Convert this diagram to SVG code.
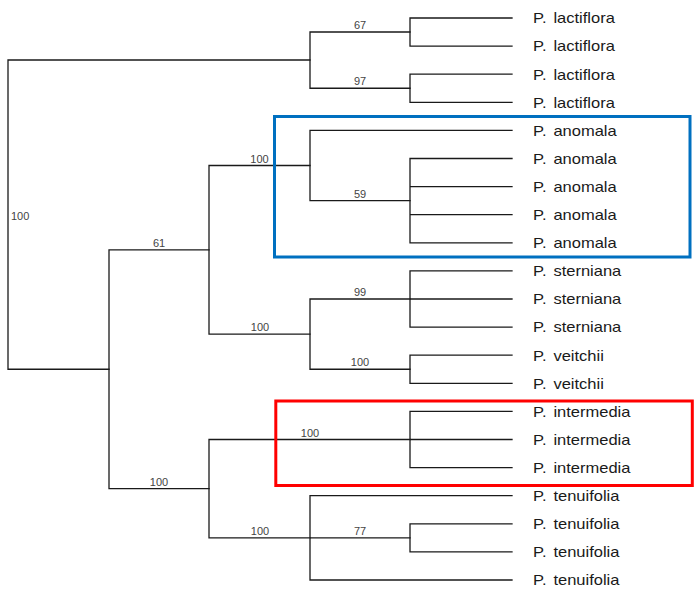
<svg xmlns="http://www.w3.org/2000/svg" width="700" height="603" viewBox="0 0 700 603">
<style>
.br{fill:none;stroke:#1a1a1a;stroke-width:1.3;stroke-linecap:square}
.leaf{font-family:"Liberation Sans",Arial,sans-serif;font-size:14px;fill:#1a1a1a}
.bs{font-family:"Liberation Sans",Arial,sans-serif;font-size:11px;fill:#444;text-anchor:middle}
.bsl{font-family:"Liberation Sans",Arial,sans-serif;font-size:11px;fill:#444}
.blue{fill:none;stroke:#0070C0;stroke-width:3}
.red{fill:none;stroke:#FF0000;stroke-width:3}
</style>
<rect width="700" height="603" fill="#fff"/>
<g id="connectors">
<path class="br" d="M8,60V369.25M8,60H310M8,369.25H109"/>
<path class="br" d="M310,32V88.25M310,32H410M310,88.25H410"/>
<path class="br" d="M410,18V46.1M410,18H512M410,46.1H512"/>
<path class="br" d="M410,74.2V102.3M410,74.2H512M410,102.3H512"/>
<path class="br" d="M109,249.8V488.7M109,249.8H209M109,488.7H209"/>
<path class="br" d="M209,165.5V334.1M209,165.5H310M209,334.1H310"/>
<path class="br" d="M310,130.4V200.65M310,130.4H512M310,200.65H410"/>
<path class="br" d="M410,158.5V242.8M410,158.5H512M410,186.6H512M410,214.7H512M410,242.8H512"/>
<path class="br" d="M310,299V369.25M310,299H410M310,369.25H410"/>
<path class="br" d="M410,270.9V327.1M410,270.9H512M410,299H512M410,327.1H512"/>
<path class="br" d="M410,355.2V383.3M410,355.2H512M410,383.3H512"/>
<path class="br" d="M209,439.5V537.85M209,439.5H410M209,537.85H310"/>
<path class="br" d="M410,411.4V467.6M410,411.4H512M410,439.5H512M410,467.6H512"/>
<path class="br" d="M310,495.7V580M310,495.7H512M310,537.85H410M310,580H512"/>
<path class="br" d="M410,523.8V551.9M410,523.8H512M410,551.9H512"/>
</g>
<g id="highlight-anomala"><rect class="blue" x="274.5" y="116.5" width="415.5" height="140.5"/></g>
<g id="highlight-intermedia"><rect class="red" x="275.8" y="401" width="416.5" height="84.5"/></g>
<g id="internal-nodes">
<g id="n-root"><text class="bsl" x="11" y="220">100</text></g>
<g id="n-lact67"><text class="bs" x="360" y="28.5">67</text></g>
<g id="n-lact97"><text class="bs" x="360" y="85">97</text></g>
<g id="n-61"><text class="bs" x="159" y="246.8">61</text></g>
<g id="n-anom100"><text class="bs" x="259.5" y="162.5">100</text></g>
<g id="n-anom59"><text class="bs" x="360" y="197.5">59</text></g>
<g id="n-stv100"><text class="bs" x="260" y="331">100</text></g>
<g id="n-stern99"><text class="bs" x="360" y="295.5">99</text></g>
<g id="n-veit100"><text class="bs" x="360" y="366">100</text></g>
<g id="n-low100"><text class="bs" x="159" y="486">100</text></g>
<g id="n-inter100"><text class="bs" x="310" y="436.7">100</text></g>
<g id="n-tenui100"><text class="bs" x="260" y="535">100</text></g>
<g id="n-tenui77"><text class="bs" x="360" y="534.5">77</text></g>
</g>
<g id="leaves">
<g id="leaf1"><text class="leaf" transform="translate(533,23.3) scale(1.18,1)">P.<tspan dx="2"> lactiflora</tspan></text></g>
<g id="leaf2"><text class="leaf" transform="translate(533,51.4) scale(1.18,1)">P.<tspan dx="2"> lactiflora</tspan></text></g>
<g id="leaf3"><text class="leaf" transform="translate(533,79.5) scale(1.18,1)">P.<tspan dx="2"> lactiflora</tspan></text></g>
<g id="leaf4"><text class="leaf" transform="translate(533,107.6) scale(1.18,1)">P.<tspan dx="2"> lactiflora</tspan></text></g>
<g id="leaf5"><text class="leaf" transform="translate(533,135.7) scale(1.18,1)">P.<tspan dx="2"> anomala</tspan></text></g>
<g id="leaf6"><text class="leaf" transform="translate(533,163.8) scale(1.18,1)">P.<tspan dx="2"> anomala</tspan></text></g>
<g id="leaf7"><text class="leaf" transform="translate(533,191.9) scale(1.18,1)">P.<tspan dx="2"> anomala</tspan></text></g>
<g id="leaf8"><text class="leaf" transform="translate(533,220) scale(1.18,1)">P.<tspan dx="2"> anomala</tspan></text></g>
<g id="leaf9"><text class="leaf" transform="translate(533,248.1) scale(1.18,1)">P.<tspan dx="2"> anomala</tspan></text></g>
<g id="leaf10"><text class="leaf" transform="translate(533,276.2) scale(1.18,1)">P.<tspan dx="2"> sterniana</tspan></text></g>
<g id="leaf11"><text class="leaf" transform="translate(533,304.3) scale(1.18,1)">P.<tspan dx="2"> sterniana</tspan></text></g>
<g id="leaf12"><text class="leaf" transform="translate(533,332.4) scale(1.18,1)">P.<tspan dx="2"> sterniana</tspan></text></g>
<g id="leaf13"><text class="leaf" transform="translate(533,360.5) scale(1.18,1)">P.<tspan dx="2"> veitchii</tspan></text></g>
<g id="leaf14"><text class="leaf" transform="translate(533,388.6) scale(1.18,1)">P.<tspan dx="2"> veitchii</tspan></text></g>
<g id="leaf15"><text class="leaf" transform="translate(533,416.7) scale(1.18,1)">P.<tspan dx="2"> intermedia</tspan></text></g>
<g id="leaf16"><text class="leaf" transform="translate(533,444.8) scale(1.18,1)">P.<tspan dx="2"> intermedia</tspan></text></g>
<g id="leaf17"><text class="leaf" transform="translate(533,472.9) scale(1.18,1)">P.<tspan dx="2"> intermedia</tspan></text></g>
<g id="leaf18"><text class="leaf" transform="translate(533,501) scale(1.18,1)">P.<tspan dx="2"> tenuifolia</tspan></text></g>
<g id="leaf19"><text class="leaf" transform="translate(533,529.1) scale(1.18,1)">P.<tspan dx="2"> tenuifolia</tspan></text></g>
<g id="leaf20"><text class="leaf" transform="translate(533,557.2) scale(1.18,1)">P.<tspan dx="2"> tenuifolia</tspan></text></g>
<g id="leaf21"><text class="leaf" transform="translate(533,585.3) scale(1.18,1)">P.<tspan dx="2"> tenuifolia</tspan></text></g>
</g>
</svg>
